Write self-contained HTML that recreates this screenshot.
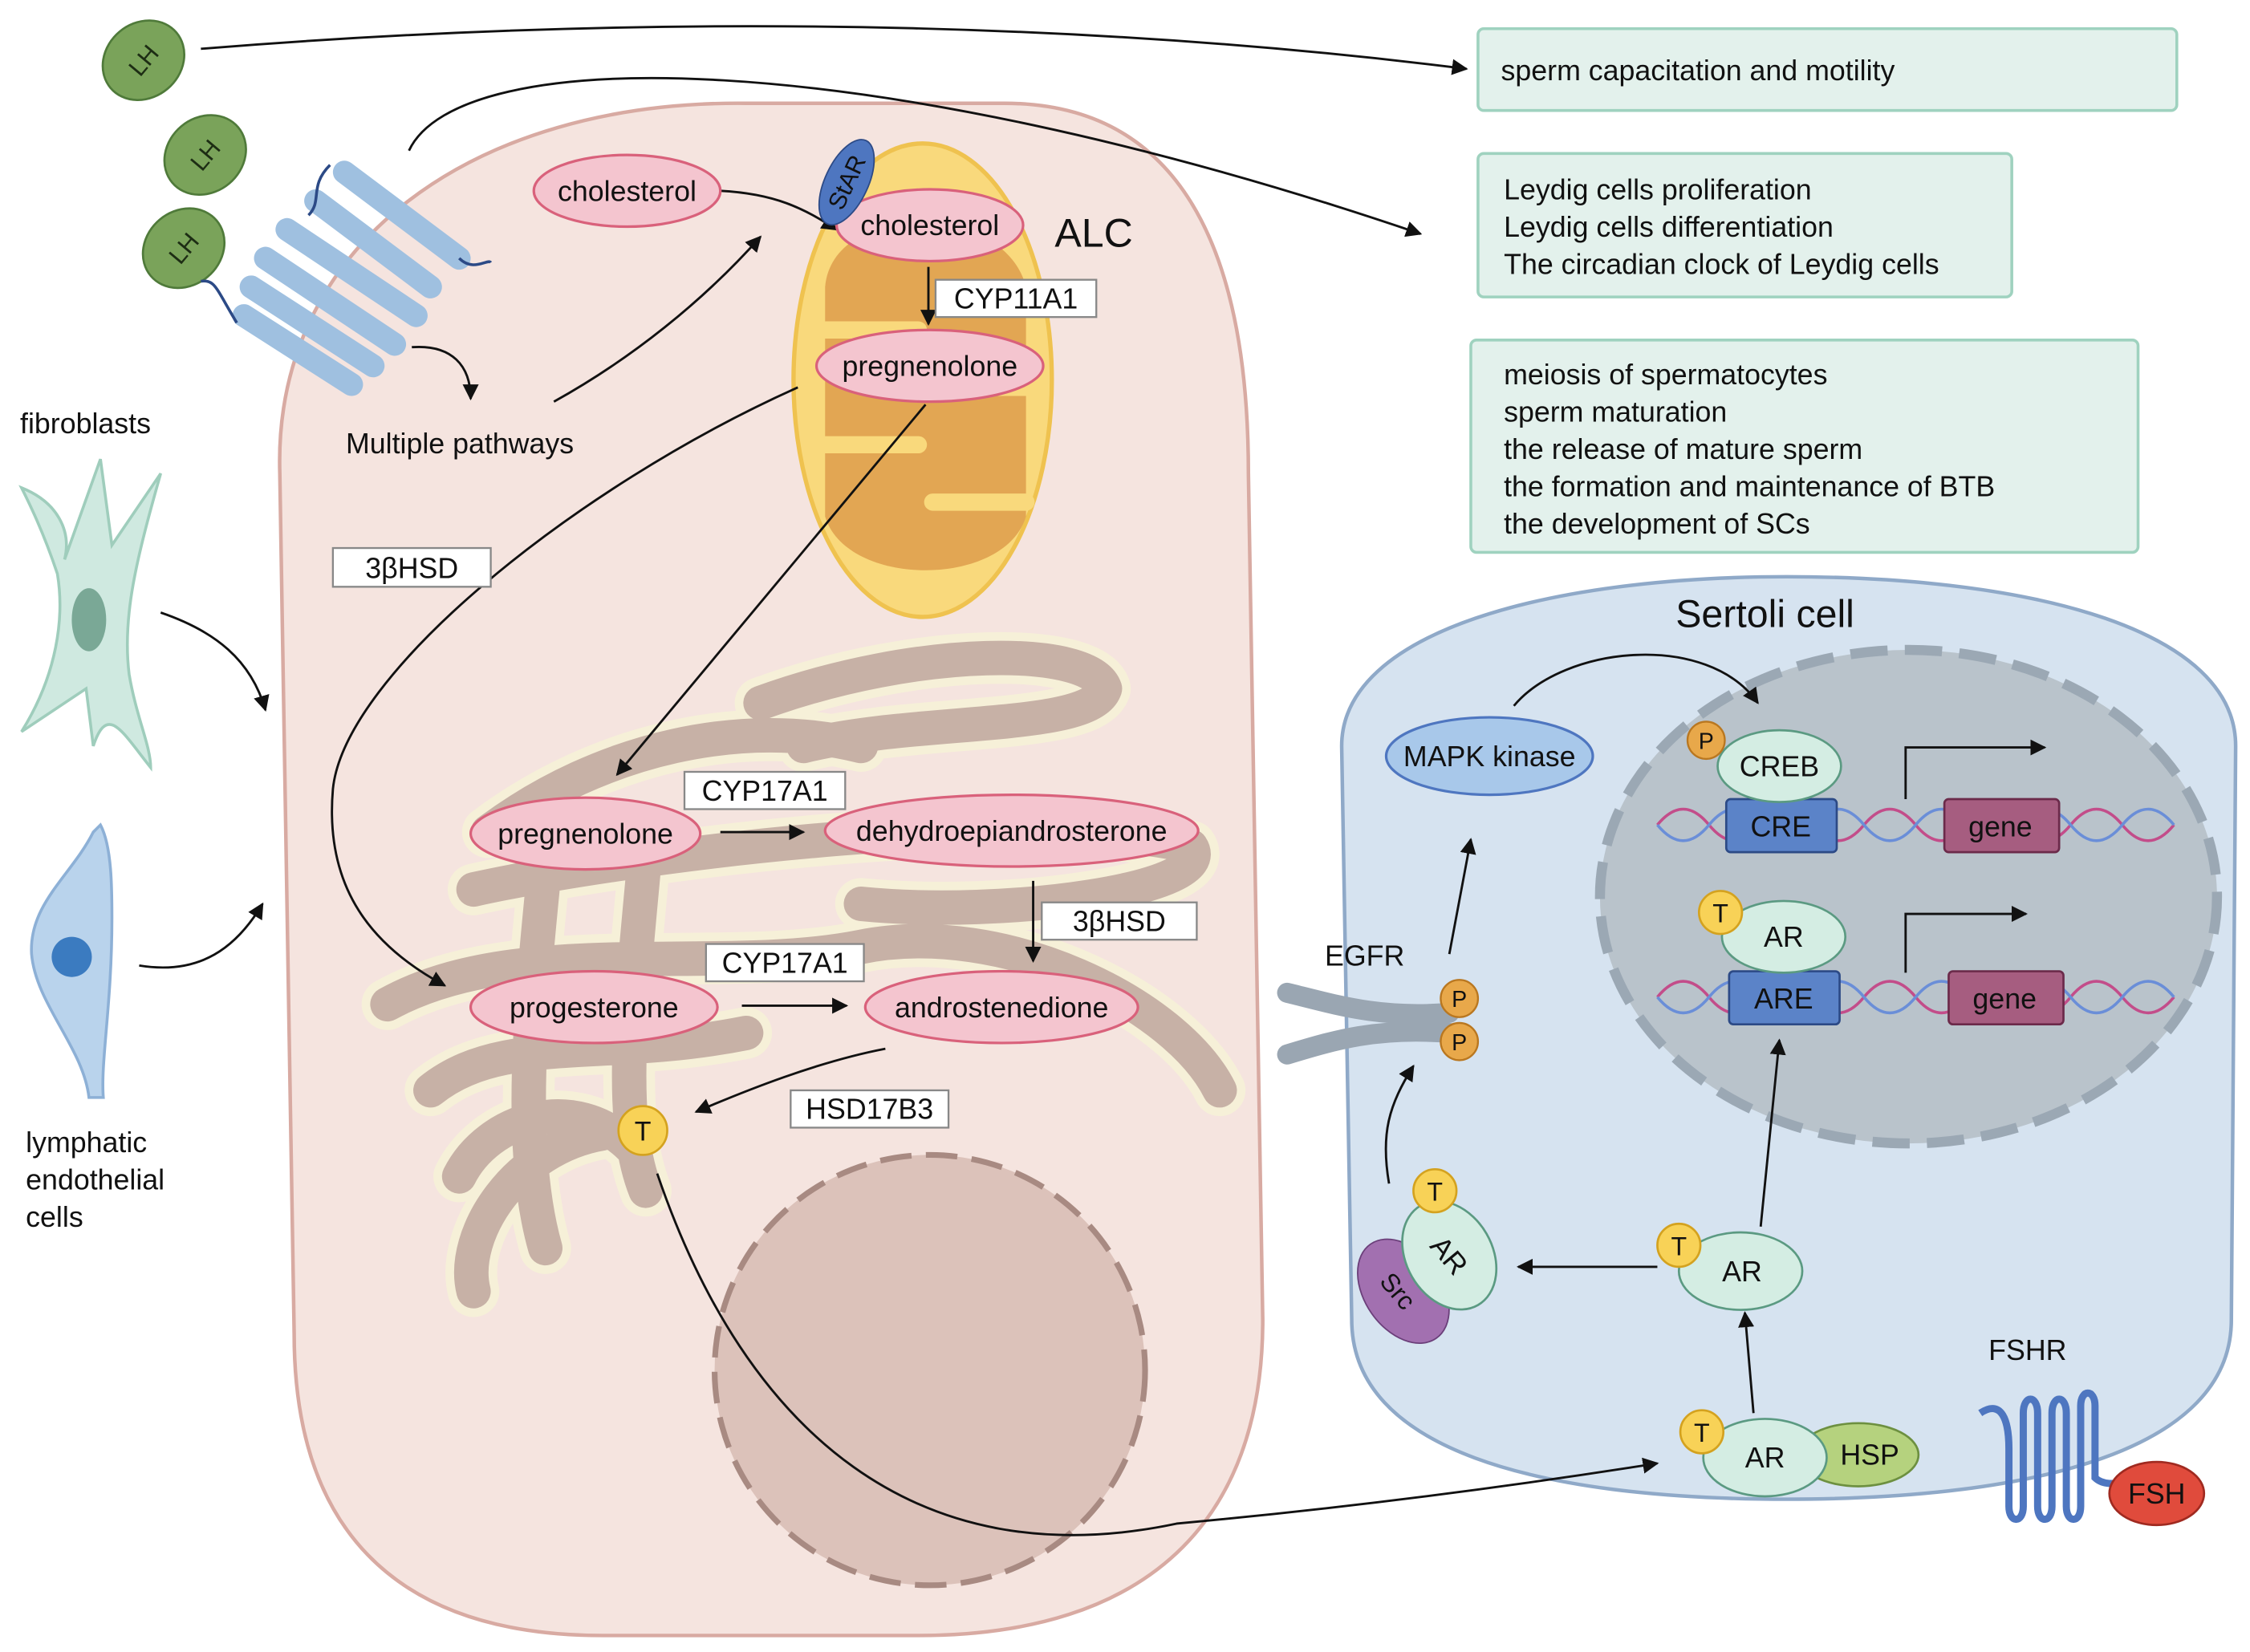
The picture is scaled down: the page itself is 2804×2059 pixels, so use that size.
<!DOCTYPE html>
<html><head><meta charset="utf-8"><style>
html,body{margin:0;padding:0;background:#fff;}
svg{display:block;}
text{font-family:"Liberation Sans",sans-serif;}
</style></head><body>
<svg width="2804" height="2059" viewBox="0 0 1568 1151.5" preserveAspectRatio="none" xmlns="http://www.w3.org/2000/svg">
<defs>
<marker id="a" viewBox="0 0 10 10" refX="9" refY="5" markerWidth="7" markerHeight="7" orient="auto"><path d="M0,0 L10,5 L0,10 z" fill="#111"/></marker>
</defs>
<rect width="1568" height="1152" fill="#fff"/>
<path d="M195,330 C190,170 330,70 520,72 L700,72 C820,72 870,170 870,330 L880,920 C880,1060 800,1140 640,1140 L420,1140 C270,1140 205,1060 205,930 Z" fill="#f5e4df" stroke="#d8aaa2" stroke-width="2.5"/>
<g fill="none" stroke-linecap="round" stroke-linejoin="round">
<g stroke="#f6f0d8" stroke-width="36">
<path d="M530,490 C640,450 760,450 770,480 C760,510 640,500 560,520 M340,580 C420,520 520,500 600,520 M330,620 C420,600 700,560 830,590 C850,620 700,640 600,630 M270,700 C360,650 500,680 600,660 C700,640 820,700 850,760 M300,760 C350,720 420,740 520,720 M320,820 C340,780 400,760 440,800 M330,900 C320,860 360,800 420,790 M380,600 C370,700 360,800 380,870 M450,590 C440,700 430,780 450,830"/>
</g>
<g stroke="#c7b1a6" stroke-width="24">
<path d="M530,490 C640,450 760,450 770,480 C760,510 640,500 560,520 M340,580 C420,520 520,500 600,520 M330,620 C420,600 700,560 830,590 C850,620 700,640 600,630 M270,700 C360,650 500,680 600,660 C700,640 820,700 850,760 M300,760 C350,720 420,740 520,720 M320,820 C340,780 400,760 440,800 M330,900 C320,860 360,800 420,790 M380,600 C370,700 360,800 380,870 M450,590 C440,700 430,780 450,830"/>
</g>
</g>
<circle cx="648" cy="955" r="150" fill="#dcc2ba" stroke="#a88a82" stroke-width="4" stroke-dasharray="22 10"/>
<ellipse cx="643" cy="265" rx="90" ry="165" fill="#f9d97c" stroke="#efc24f" stroke-width="3"/>
<path d="M575,200 C580,140 700,140 715,200 L715,360 C700,410 590,410 575,360 Z" fill="#e2a653"/>
<g stroke="#f9d97c" stroke-width="12" fill="none" stroke-linecap="round">
<path d="M575,230 L640,230 M715,270 L650,270 M575,310 L640,310 M715,350 L650,350"/>
</g>
<path d="M935,520 C935,440 1080,402 1245,402 C1420,402 1558,440 1558,520 L1555,920 C1555,1010 1420,1045 1245,1045 C1070,1045 942,1010 942,920 Z" fill="#d6e3f0" stroke="#8fa9c8" stroke-width="2.5"/>
<ellipse cx="1330" cy="625" rx="215" ry="172" fill="#b9c3cb" stroke="#9ba8b4" stroke-width="7" stroke-dasharray="26 12"/>
<g fill="#e3f1ec" stroke="#9fd2bf" stroke-width="2">
<rect x="1030" y="20" width="487" height="57" rx="4"/>
<rect x="1030" y="107" width="372" height="100" rx="4"/>
<rect x="1025" y="237" width="465" height="148" rx="4"/>
</g>
<g font-size="20" fill="#111">
<text x="1046" y="56">sperm capacitation and motility</text>
<text x="1048" y="139">Leydig cells proliferation</text>
<text x="1048" y="165">Leydig cells differentiation</text>
<text x="1048" y="191">The circadian clock of Leydig cells</text>
<text x="1048" y="268">meiosis of spermatocytes</text>
<text x="1048" y="294">sperm maturation</text>
<text x="1048" y="320">the release of mature sperm</text>
<text x="1048" y="346">the formation and maintenance of BTB</text>
<text x="1048" y="372">the development of SCs</text>
</g>
<g fill="#7aa35a" stroke="#4f7a3a" stroke-width="1.5">
<ellipse cx="100" cy="42" rx="30" ry="26" transform="rotate(-40 100 42)"/>
<ellipse cx="143" cy="108" rx="30" ry="26" transform="rotate(-40 143 108)"/>
<ellipse cx="128" cy="173" rx="30" ry="26" transform="rotate(-40 128 173)"/>
</g>
<g font-size="17" fill="#1d2d14" text-anchor="middle">
<text x="100" y="48" transform="rotate(-50 100 42)">LH</text>
<text x="143" y="114" transform="rotate(-50 143 108)">LH</text>
<text x="128" y="179" transform="rotate(-50 128 173)">LH</text>
</g>
<g stroke="#9fc0e0" stroke-width="16" stroke-linecap="round">
<path d="M240,120 L320,180 M220,140 L300,200 M200,160 L290,220 M185,180 L275,240 M175,200 L260,255 M170,220 L245,268"/>
</g>
<path d="M230,115 C215,130 225,140 215,150 M320,180 C330,190 340,180 342,183 M165,225 C150,200 150,195 140,196" stroke="#2c4a86" stroke-width="2" fill="none"/>
<path d="M15,340 C40,350 50,370 45,390 L70,320 L78,380 L112,330 C95,390 85,430 90,470 C95,500 105,520 105,535 C85,510 75,490 65,520 L60,480 C45,490 30,500 15,510 C40,470 45,430 40,400 C30,370 20,350 15,340 Z" fill="#cfe9e0" stroke="#9fcdbc" stroke-width="2"/>
<ellipse cx="62" cy="432" rx="12" ry="22" fill="#7aa896"/>
<text x="14" y="302" font-size="20" fill="#111">fibroblasts</text>
<path d="M70,575 C78,590 78,620 78,640 C78,700 70,740 72,765 L62,765 C58,730 25,700 22,665 C20,630 50,610 65,580 Z" fill="#b9d3ec" stroke="#8db0d6" stroke-width="2"/>
<circle cx="50" cy="667" r="14" fill="#3b7bc0"/>
<g font-size="20" fill="#111"><text x="18" y="803">lymphatic</text><text x="18" y="829">endothelial</text><text x="18" y="855">cells</text></g>
<g fill="none" stroke="#111" stroke-width="1.6" marker-end="url(#a)">
<path d="M140,34 C500,5 800,20 1022,48"/>
<path d="M285,105 C320,30 600,30 990,163"/>
<path d="M287,242 C315,240 328,255 328,278"/>
<path d="M386,280 C440,250 490,210 530,165"/>
<path d="M502,133 C540,135 560,145 583,160"/>
<path d="M647,186 L647,226"/>
<path d="M645,282 L430,540"/>
<path d="M556,270 C400,340 240,470 232,550 C226,620 260,660 310,687"/>
<path d="M502,580 L560,580"/>
<path d="M720,614 L720,670"/>
<path d="M517,701 L590,701"/>
<path d="M617,731 C570,740 520,760 485,775"/>
<path d="M458,818 C520,1000 640,1100 820,1062 C950,1050 1060,1035 1155,1020"/>
<path d="M112,427 C150,440 175,460 185,495"/>
<path d="M97,673 C140,680 165,660 183,630"/>
<path d="M1010,665 L1025,585"/>
<path d="M1055,492 C1090,450 1190,440 1225,490"/>
<path d="M968,825 C962,790 968,770 985,743"/>
<path d="M1155,883 L1058,883"/>
<path d="M1227,855 L1240,725"/>
<path d="M1222,985 L1216,915"/>
</g>
<g fill="none" stroke="#111" stroke-width="1.6">
<path d="M1328,557 L1328,521 L1425,521" marker-end="url(#a)"/>
<path d="M1328,678 L1328,637 L1412,637" marker-end="url(#a)"/>
</g>
<text x="241" y="316" font-size="20" fill="#111">Multiple pathways</text>
<text x="735" y="172" font-size="28" fill="#111">ALC</text>
<g fill="#f4c5cf" stroke="#d9617b" stroke-width="1.8">
<ellipse cx="437" cy="133" rx="65" ry="25"/>
<ellipse cx="648" cy="157" rx="65" ry="25"/>
<ellipse cx="648" cy="255" rx="79" ry="25"/>
<ellipse cx="408" cy="581" rx="80" ry="25"/>
<ellipse cx="705" cy="579" rx="130" ry="25"/>
<ellipse cx="414" cy="702" rx="86" ry="25"/>
<ellipse cx="698" cy="702" rx="95" ry="25"/>
</g>
<ellipse cx="590" cy="127" rx="15" ry="32" transform="rotate(25 590 127)" fill="#4e76c0" stroke="#2c4a86"/>
<text x="590" y="133" font-size="17" fill="#111" text-anchor="middle" transform="rotate(-65 590 127)">StAR</text>
<g font-size="20" fill="#111" text-anchor="middle">
<text x="437" y="140">cholesterol</text>
<text x="648" y="164">cholesterol</text>
<text x="648" y="262">pregnenolone</text>
<text x="408" y="588">pregnenolone</text>
<text x="705" y="586">dehydroepiandrosterone</text>
<text x="414" y="709">progesterone</text>
<text x="698" y="709">androstenedione</text>
</g>
<g fill="#fff" stroke="#888" stroke-width="1.3">
<rect x="652" y="195" width="112" height="26"/>
<rect x="232" y="382" width="110" height="27"/>
<rect x="477" y="538" width="112" height="26"/>
<rect x="726" y="629" width="108" height="26"/>
<rect x="492" y="658" width="110" height="26"/>
<rect x="551" y="760" width="110" height="26"/>
</g>
<g font-size="20" fill="#111" text-anchor="middle">
<text x="708" y="215">CYP11A1</text>
<text x="287" y="403">3βHSD</text>
<text x="533" y="558">CYP17A1</text>
<text x="780" y="649">3βHSD</text>
<text x="547" y="678">CYP17A1</text>
<text x="606" y="780">HSD17B3</text>
</g>
<circle cx="448" cy="788" r="17" fill="#f8d257" stroke="#d4a21f" stroke-width="1.5"/>
<text x="448" y="795" font-size="19" text-anchor="middle" fill="#111">T</text>
<text x="1230" y="437" font-size="27" fill="#111" text-anchor="middle">Sertoli cell</text>
<ellipse cx="1038" cy="527" rx="72" ry="27" fill="#a8c8ea" stroke="#4e76c0" stroke-width="1.8"/>
<text x="1038" y="534" font-size="20" text-anchor="middle" fill="#111">MAPK kinase</text>
<g fill="none" stroke-width="2">
<path d="M1155,575 q18,-22 36,0 t36,0 t36,0 t36,0 t36,0 t36,0 t36,0 t36,0 t36,0 t36,0" stroke="#c34d8a"/>
<path d="M1155,575 q18,22 36,0 t36,0 t36,0 t36,0 t36,0 t36,0 t36,0 t36,0 t36,0 t36,0" stroke="#6a8ed8"/>
<path d="M1155,695 q18,-22 36,0 t36,0 t36,0 t36,0 t36,0 t36,0 t36,0 t36,0 t36,0 t36,0" stroke="#c34d8a"/>
<path d="M1155,695 q18,22 36,0 t36,0 t36,0 t36,0 t36,0 t36,0 t36,0 t36,0 t36,0 t36,0" stroke="#6a8ed8"/>
</g>
<g stroke="#2c4a86" stroke-width="1.5" fill="#5b83c8">
<rect x="1203" y="557" width="77" height="37" rx="3"/>
<rect x="1205" y="677" width="77" height="37" rx="3"/>
</g>
<g stroke="#6b2a4a" stroke-width="1.5" fill="#a65d80">
<rect x="1355" y="557" width="80" height="37" rx="3"/>
<rect x="1358" y="677" width="80" height="37" rx="3"/>
</g>
<g fill="#d4ede3" stroke="#5b9a82" stroke-width="1.5">
<ellipse cx="1240" cy="534" rx="43" ry="25"/>
<ellipse cx="1243" cy="653" rx="43" ry="25"/>
<ellipse cx="1213" cy="886" rx="43" ry="27"/>
</g>
<ellipse cx="978" cy="900" rx="27" ry="40" transform="rotate(-35 978 900)" fill="#a270b0" stroke="#6b3f7a"/>
<ellipse cx="1010" cy="875" rx="30" ry="40" transform="rotate(-30 1010 875)" fill="#d4ede3" stroke="#5b9a82" stroke-width="1.5"/>
<ellipse cx="1295" cy="1014" rx="42" ry="22" fill="#b5d27e" stroke="#6d9040" stroke-width="1.5"/>
<ellipse cx="1230" cy="1016" rx="43" ry="27" fill="#d4ede3" stroke="#5b9a82" stroke-width="1.5"/>
<g font-size="20" fill="#111" text-anchor="middle">
<text x="1240" y="541">CREB</text>
<text x="1241" y="583">CRE</text>
<text x="1394" y="583">gene</text>
<text x="1243" y="660">AR</text>
<text x="1243" y="703">ARE</text>
<text x="1397" y="703">gene</text>
<text x="1214" y="893">AR</text>
<text x="1230" y="1023">AR</text>
<text x="1303" y="1021">HSP</text>
<text x="1010" y="882" transform="rotate(50 1010 875)">AR</text>
<text x="974" y="906" transform="rotate(50 974 900)" font-size="18">Src</text>
<text x="951" y="673">EGFR</text>
<text x="1413" y="948">FSHR</text>
</g>
<g stroke="#9aa6b2" stroke-width="14" stroke-linecap="round" fill="none">
<path d="M897,692 C930,700 960,710 1010,706"/>
<path d="M897,735 C930,725 960,716 1010,720"/>
</g>
<g fill="#e8a84a" stroke="#b97720" stroke-width="1.3">
<circle cx="1189" cy="516" r="13"/><circle cx="1017" cy="696" r="13"/><circle cx="1017" cy="726" r="13"/>
</g>
<g font-size="16" text-anchor="middle" fill="#111">
<text x="1189" y="522">P</text><text x="1017" y="702">P</text><text x="1017" y="732">P</text>
</g>
<g fill="#f8d257" stroke="#d4a21f" stroke-width="1.5">
<circle cx="1199" cy="636" r="15"/><circle cx="1000" cy="830" r="15"/><circle cx="1170" cy="868" r="15"/><circle cx="1186" cy="998" r="15"/>
</g>
<g font-size="18" text-anchor="middle" fill="#111">
<text x="1199" y="643">T</text><text x="1000" y="837">T</text><text x="1170" y="875">T</text><text x="1186" y="1005">T</text>
</g>
<path d="M1380,985 C1395,975 1400,990 1400,1010 L1400,1050 C1400,1062 1410,1062 1410,1050 L1410,985 C1410,972 1420,972 1420,985 L1420,1050 C1420,1062 1430,1062 1430,1050 L1430,985 C1430,972 1440,972 1440,985 L1440,1050 C1440,1062 1450,1062 1450,1050 L1450,980 C1450,968 1460,968 1460,980 L1460,1030 C1465,1035 1475,1035 1480,1032" fill="none" stroke="#4e76c0" stroke-width="5"/>
<ellipse cx="1503" cy="1041" rx="33" ry="22" fill="#e04b3c" stroke="#a02a20" stroke-width="1.5"/>
<text x="1503" y="1048" font-size="20" text-anchor="middle" fill="#111">FSH</text>
</svg>
</body></html>
